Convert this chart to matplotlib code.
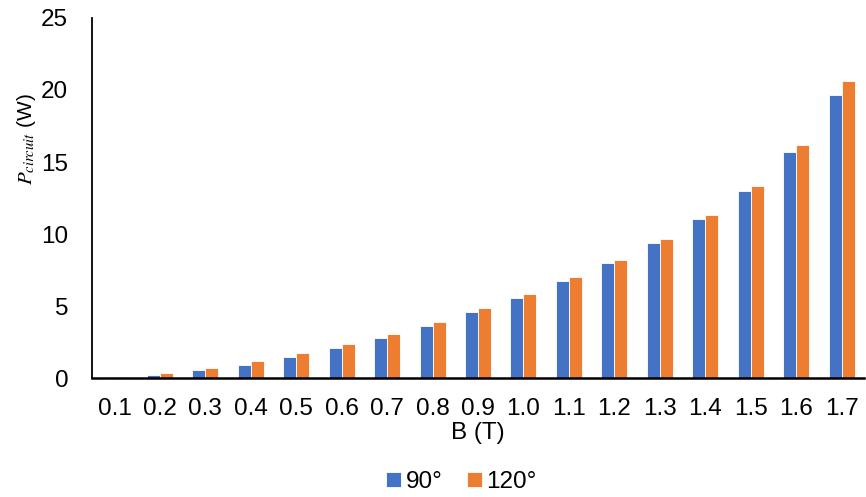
import numpy as np
import matplotlib
matplotlib.use("Agg")
import matplotlib.pyplot as plt

b_field = ["0.1", "0.2", "0.3", "0.4", "0.5", "0.6", "0.7", "0.8", "0.9",
           "1.0", "1.1", "1.2", "1.3", "1.4", "1.5", "1.6", "1.7"]
p_90 = [0.05, 0.25, 0.55, 0.95, 1.46, 2.08, 2.80, 3.61, 4.56,
        5.60, 6.74, 7.96, 9.40, 11.06, 13.0, 15.67, 19.63]
p_120 = [0.1, 0.35, 0.74, 1.18, 1.74, 2.36, 3.08, 3.91, 4.86,
         5.83, 6.99, 8.20, 9.63, 11.3, 13.35, 16.15, 20.6]

plt.rcParams["font.family"] = ["Liberation Sans", "DejaVu Sans"]
plt.rcParams["mathtext.fontset"] = "stix"

FS = 17.5

fig = plt.figure(figsize=(8.66, 4.97), dpi=100)
ax = fig.add_axes([0.106, 0.239, 0.892, 0.725])

x = np.arange(len(b_field))
w = 0.286
ax.bar(x - w / 2, p_90, w, color="#4472C4", edgecolor="white", linewidth=0.6, label="90°")
ax.bar(x + w / 2, p_120, w, color="#ED7D31", edgecolor="white", linewidth=0.6, label="120°")

ax.set_xlim(-0.5, len(b_field) - 0.5)
ax.set_ylim(0, 25)
ax.set_yticks([0, 5, 10, 15, 20, 25])
ax.set_xticks(x)
ax.set_xticklabels(b_field)
ax.tick_params(axis="both", length=0, labelsize=FS)
ax.tick_params(axis="y", pad=17)
ax.tick_params(axis="x", pad=14)

for s in ["top", "right"]:
    ax.spines[s].set_visible(False)
ax.spines["left"].set_linewidth(1.3)
ax.spines["bottom"].set_linewidth(1.8)
ax.spines["left"].set_color("black")
ax.spines["bottom"].set_color("black")

ax.set_xlabel("B (T)", fontsize=FS, labelpad=2)
ax.set_ylabel(r"$P_{circuit}$ (W)", fontsize=15)
ax.yaxis.set_label_coords(-0.070, 0.665)

fig.legend(loc="center", bbox_to_anchor=(0.533, 0.03), ncol=2, frameon=False,
           fontsize=FS, handlelength=0.6, handleheight=0.6, handletextpad=0.2,
           columnspacing=1.0)

fig.savefig("out.png", dpi=100)
